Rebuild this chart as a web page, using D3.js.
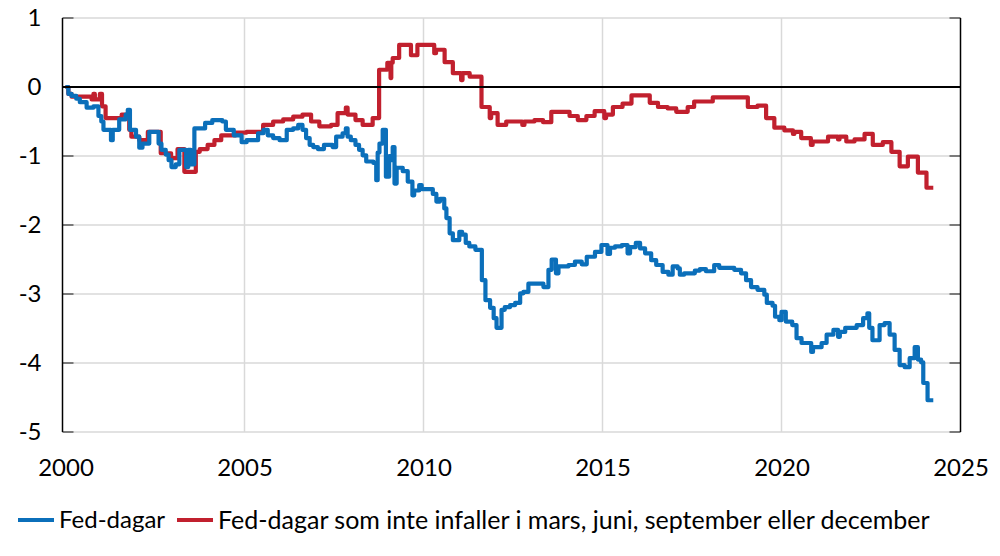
<!DOCTYPE html>
<html><head><meta charset="utf-8">
<script src="https://cdn.jsdelivr.net/npm/d3@7"></script>
<style>body{margin:0;background:#fff}svg{display:block}text{font-family:Lato,"Open Sans",sans-serif;fill:#000}</style>
</head><body><svg id="c" width="1000" height="556"></svg>
<script>
// ---- data (step series, value holds from each date until the next) ----
const fedYears = [2000.00,2000.08,2000.17,2000.30,2000.40,2000.59,2000.78,2000.92,2001.00,2001.06,2001.27,2001.32,2001.50,2001.68,2001.74,2001.80,2001.97,2002.06,2002.15,2002.34,2002.60,2002.68,2002.80,2002.88,2002.96,2003.08,2003.18,2003.37,2003.43,2003.50,2003.60,2003.90,2004.10,2004.38,2004.48,2004.70,2004.92,2005.06,2005.38,2005.53,2005.65,2005.80,2005.98,2006.18,2006.36,2006.50,2006.62,2006.72,2006.82,2006.92,2007.05,2007.22,2007.46,2007.56,2007.74,2007.83,2007.88,2007.97,2008.10,2008.20,2008.30,2008.40,2008.60,2008.68,2008.72,2008.77,2008.86,2008.95,2009.04,2009.09,2009.14,2009.19,2009.25,2009.42,2009.56,2009.69,2009.74,2009.88,2009.95,2010.26,2010.36,2010.46,2010.58,2010.64,2010.73,2010.82,2011.00,2011.08,2011.18,2011.28,2011.45,2011.63,2011.73,2011.86,2011.96,2012.04,2012.18,2012.27,2012.42,2012.56,2012.70,2012.79,2012.93,2013.35,2013.49,2013.58,2013.70,2013.77,2014.05,2014.23,2014.42,2014.56,2014.79,2014.97,2015.14,2015.21,2015.35,2015.54,2015.70,2015.77,2015.93,2016.05,2016.19,2016.36,2016.50,2016.68,2016.84,2016.96,2017.10,2017.16,2017.28,2017.58,2017.72,2017.89,2018.12,2018.26,2018.68,2018.87,2019.01,2019.15,2019.33,2019.52,2019.59,2019.75,2019.82,2019.94,2020.00,2020.12,2020.30,2020.42,2020.56,2020.83,2020.88,2021.12,2021.26,2021.45,2021.58,2021.63,2021.78,2022.10,2022.28,2022.40,2022.45,2022.54,2022.74,2022.88,2023.02,2023.16,2023.30,2023.44,2023.58,2023.72,2023.81,2023.90,2023.96,2024.08,2024.24];
const fedValues = [0,-0.10,-0.13,-0.17,-0.22,-0.30,-0.28,-0.42,-0.50,-0.62,-0.77,-0.62,-0.47,-0.40,-0.33,-0.62,-0.72,-0.88,-0.82,-0.65,-0.82,-0.91,-0.98,-1.06,-1.16,-1.12,-0.91,-1.16,-0.91,-1.12,-0.60,-0.52,-0.48,-0.50,-0.62,-0.70,-0.80,-0.77,-0.67,-0.62,-0.70,-0.74,-0.77,-0.62,-0.60,-0.55,-0.62,-0.74,-0.84,-0.87,-0.90,-0.84,-0.87,-0.72,-0.67,-0.60,-0.72,-0.77,-0.84,-0.91,-0.99,-1.08,-1.10,-1.35,-0.95,-0.82,-0.62,-1.30,-1.00,-1.06,-0.87,-1.40,-1.17,-1.22,-1.37,-1.57,-1.50,-1.42,-1.48,-1.55,-1.66,-1.62,-1.76,-1.90,-2.12,-2.22,-2.10,-2.14,-2.26,-2.31,-2.36,-2.80,-3.09,-3.20,-3.35,-3.49,-3.23,-3.19,-3.16,-3.13,-2.99,-2.97,-2.85,-2.90,-2.65,-2.50,-2.70,-2.60,-2.58,-2.53,-2.57,-2.46,-2.39,-2.29,-2.42,-2.33,-2.31,-2.29,-2.41,-2.32,-2.26,-2.34,-2.41,-2.51,-2.58,-2.68,-2.72,-2.60,-2.63,-2.72,-2.70,-2.66,-2.64,-2.67,-2.58,-2.62,-2.65,-2.70,-2.80,-2.90,-2.94,-3.01,-3.13,-3.17,-3.33,-3.38,-3.26,-3.40,-3.45,-3.64,-3.71,-3.84,-3.77,-3.71,-3.59,-3.52,-3.62,-3.55,-3.49,-3.45,-3.35,-3.28,-3.49,-3.67,-3.45,-3.42,-3.59,-3.81,-4.03,-4.06,-3.93,-3.77,-3.95,-3.99,-4.29,-4.54,-4.54];

const otherYears = [2000.00,2000.08,2000.17,2000.73,2000.78,2000.82,2000.96,2001.02,2001.12,2001.57,2001.78,2001.84,2002.06,2002.30,2002.66,2002.95,2003.13,2003.32,2003.64,2003.75,2003.97,2004.16,2004.35,2004.76,2005.06,2005.52,2005.80,2006.08,2006.36,2006.62,2006.86,2007.09,2007.42,2007.60,2007.83,2007.88,2008.10,2008.30,2008.58,2008.76,2008.99,2009.08,2009.10,2009.14,2009.32,2009.65,2009.83,2010.30,2010.35,2010.59,2010.82,2011.05,2011.09,2011.29,2011.62,2011.85,2011.89,2012.07,2012.31,2012.76,2012.82,2013.10,2013.34,2013.57,2014.08,2014.31,2014.55,2014.78,2015.05,2015.10,2015.29,2015.56,2015.81,2016.32,2016.55,2016.82,2017.06,2017.38,2017.56,2018.08,2019.06,2019.33,2019.57,2019.80,2020.08,2020.32,2020.36,2020.55,2020.82,2020.87,2021.30,2021.58,2021.62,2021.81,2022.04,2022.32,2022.55,2022.83,2023.07,2023.30,2023.53,2023.81,2024.05,2024.24];
const otherValues = [0,-0.10,-0.14,-0.18,-0.10,-0.18,-0.10,-0.28,-0.45,-0.40,-0.62,-0.72,-0.77,-0.65,-0.96,-1.03,-0.90,-1.23,-0.94,-0.90,-0.84,-0.77,-0.70,-0.66,-0.65,-0.55,-0.50,-0.47,-0.43,-0.40,-0.50,-0.57,-0.55,-0.38,-0.30,-0.40,-0.48,-0.55,-0.45,0.25,0.35,0.13,0.35,0.42,0.61,0.46,0.61,0.49,0.54,0.36,0.20,0.10,0.20,0.15,-0.29,-0.45,-0.38,-0.55,-0.50,-0.55,-0.50,-0.48,-0.51,-0.36,-0.42,-0.48,-0.42,-0.35,-0.45,-0.40,-0.29,-0.24,-0.12,-0.23,-0.29,-0.31,-0.36,-0.29,-0.21,-0.15,-0.29,-0.27,-0.45,-0.59,-0.63,-0.68,-0.65,-0.74,-0.84,-0.79,-0.72,-0.76,-0.72,-0.79,-0.76,-0.68,-0.84,-0.80,-0.94,-1.15,-1.01,-1.24,-1.46,-1.46];

const yTicks = [1,0,-1,-2,-3,-4,-5];
const xTicks = [2000,2005,2010,2015,2020,2025];
const seriesNames = ["Fed-dagar","Fed-dagar som inte infaller i mars, juni, september eller december"];
const seriesColors = ["#0b6fba","#c1202e"];

// ---- drawing ----
const svg = d3.select("#c");
const x = d3.scaleLinear().domain([2000,2025]).range([65.5,960.5]);
const y = d3.scaleLinear().domain([-5,1]).range([432,18]);
const left = 62.5, right = 960.5;

// horizontal gridlines
svg.append("g").selectAll("line").data(yTicks.filter(d=>d!==0)).join("line")
  .attr("x1",left).attr("x2",right).attr("y1",d=>y(d)).attr("y2",d=>y(d))
  .attr("stroke","#d9d9d9").attr("stroke-width",1.5);
// vertical gridlines
svg.append("g").selectAll("line").data(xTicks.filter(d=>d>2000&&d<2025)).join("line")
  .attr("x1",d=>x(d)).attr("x2",d=>x(d)).attr("y1",y(1)).attr("y2",y(-5))
  .attr("stroke","#d9d9d9").attr("stroke-width",1.5);
// tick marks inside both side axes
svg.append("g").selectAll("line").data(yTicks).join("line")
  .attr("x1",left).attr("x2",left+11).attr("y1",d=>y(d)).attr("y2",d=>y(d))
  .attr("stroke","#595959").attr("stroke-width",1.5);
svg.append("g").selectAll("line").data(yTicks).join("line")
  .attr("x1",right-11).attr("x2",right).attr("y1",d=>y(d)).attr("y2",d=>y(d))
  .attr("stroke","#595959").attr("stroke-width",1.5);
// axis frame lines
svg.append("line").attr("x1",left).attr("x2",left).attr("y1",y(1)).attr("y2",y(-5)).attr("stroke","#000").attr("stroke-width",1.5);
svg.append("line").attr("x1",right).attr("x2",right).attr("y1",y(1)).attr("y2",y(-5)).attr("stroke","#000").attr("stroke-width",1.5);

// axis labels
const yAxis = svg.append("g").attr("transform",`translate(${left},0)`)
  .call(d3.axisLeft(y).tickValues(yTicks).tickSize(0).tickPadding(21).tickFormat(d=>String(d)));
yAxis.select(".domain").remove();
yAxis.selectAll("text").attr("font-size",24).attr("font-family","Lato");
const xAxis = svg.append("g").attr("transform",`translate(0,${y(-5)})`)
  .call(d3.axisBottom(x).tickValues(xTicks).tickSize(0).tickPadding(27).tickFormat(d=>String(d)));
xAxis.select(".domain").remove();
xAxis.selectAll("text").attr("font-size",24).attr("font-family","Lato");

// series
const line = d3.line().x(d=>x(d[0])).y(d=>y(d[1])).curve(d3.curveStepAfter);
const otherData = otherYears.map((t,i)=>[t,otherValues[i]]);
const fedData = fedYears.map((t,i)=>[t,fedValues[i]]);
svg.append("path").datum(otherData).attr("d",line).attr("fill","none")
  .attr("stroke",seriesColors[1]).attr("stroke-width",4.2).attr("stroke-linejoin","round");
svg.append("path").datum(fedData).attr("d",line).attr("fill","none")
  .attr("stroke",seriesColors[0]).attr("stroke-width",4.2).attr("stroke-linejoin","round");

// zero line
svg.append("line").attr("x1",left).attr("x2",right).attr("y1",y(0)).attr("y2",y(0))
  .attr("stroke","#000").attr("stroke-width",2);

// legend
const lg = svg.append("g");
const lgX = [18,177];
const lgSize = [24, 25];
seriesNames.forEach((n,i)=>{
  lg.append("line").attr("x1",lgX[i]).attr("x2",lgX[i]+36).attr("y1",520).attr("y2",520)
    .attr("stroke",seriesColors[i]).attr("stroke-width",4);
  lg.append("text").attr("x",lgX[i]+41).attr("y",520).attr("dy","0.35em")
    .attr("font-size",lgSize[i]).text(n);
});
</script></body></html>
